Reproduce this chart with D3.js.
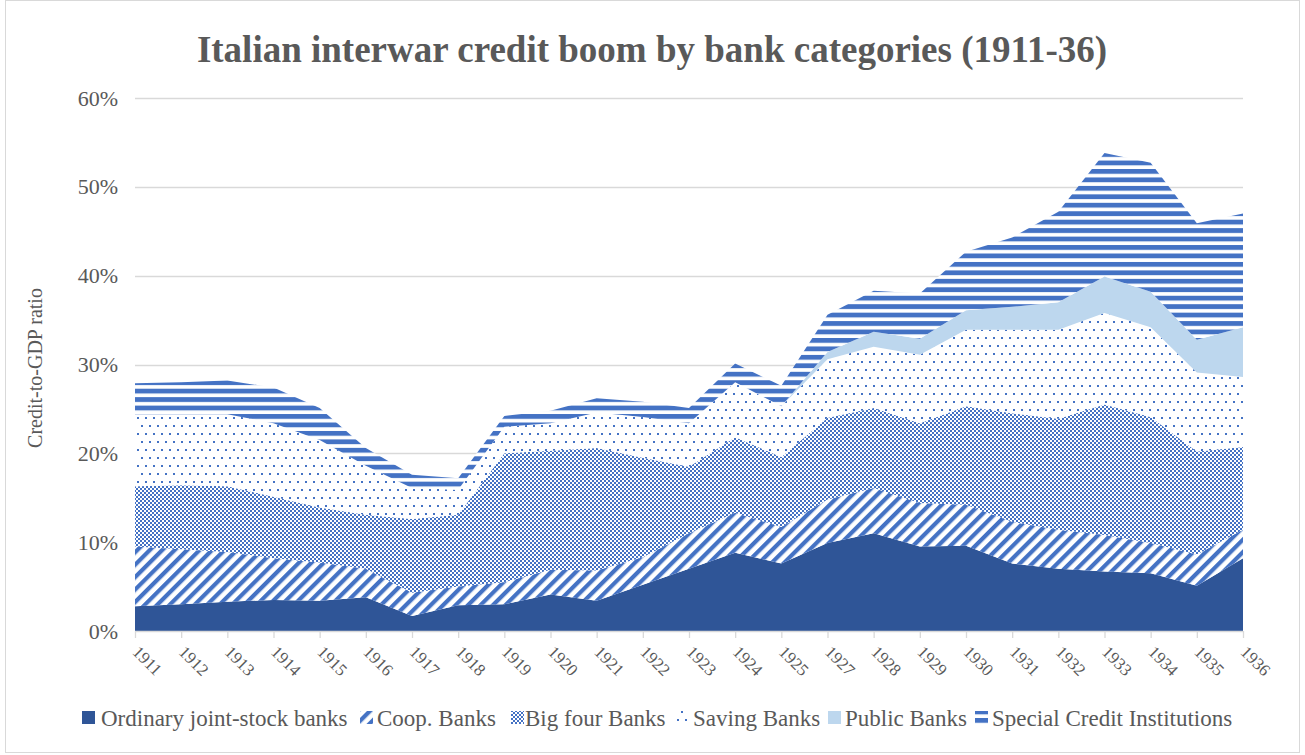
<!DOCTYPE html>
<html>
<head>
<meta charset="utf-8">
<script src="https://cdn.jsdelivr.net/npm/d3@7"></script>
<style>
  html, body { margin: 0; padding: 0; background: #ffffff; }
  svg { display: block; }
  text { font-family: "Liberation Serif", "Times New Roman", serif; }
</style>
</head>
<body>
<svg id="chart" width="1305" height="755"></svg>
<script>
// ---------------- DATA ----------------
const years = ["1911","1912","1913","1914","1915","1916","1917","1918","1919","1920",
               "1921","1922","1923","1924","1925","1927","1928","1929","1930","1931",
               "1932","1933","1934","1935","1936"];

const seriesNames = ["Ordinary joint-stock banks", "Coop. Banks", "Big four Banks",
                     "Saving Banks", "Public Banks", "Special Credit Institutions"];

// values in percent of GDP (each category's own share, stacked in the chart)
const ordinaryBanks = [2.8,3.0,3.3,3.5,3.4,3.8,1.7,2.9,3.0,4.1,3.4,5.2,7.0,8.8,7.6,9.9,11.0,9.5,9.6,7.6,7.0,6.7,6.5,5.1,8.2];
const coopBanks     = [6.7,6.2,5.6,4.7,4.3,3.2,2.6,2.1,2.5,2.8,3.4,3.1,4.0,4.5,4.1,4.9,5.1,4.9,4.6,4.7,4.4,4.1,3.4,3.5,3.2];
const bigFourBanks  = [6.8,7.2,7.4,6.9,6.2,6.1,8.3,8.1,14.5,13.4,13.8,11.2,7.5,8.5,7.9,9.2,9.0,9.0,11.1,12.2,12.5,14.7,14.2,11.6,9.3];
const savingBanks   = [8.1,8.0,8.1,8.3,7.6,5.5,3.5,2.8,3.0,3.1,4.0,4.6,4.9,6.2,5.7,6.6,6.9,7.7,8.6,9.4,10.0,10.3,10.1,8.9,7.9];
const publicBanks   = [0,0,0,0,0,0,0,0,0,0,0,0,0,0,0,0.8,1.7,1.8,2.2,2.6,3.1,4.1,4.0,3.7,5.6];
const specialCredit = [3.5,3.6,3.8,4.0,3.6,2.0,1.5,1.3,1.2,1.4,1.6,1.7,1.7,2.1,2.3,4.2,4.6,5.1,6.6,7.8,10.2,13.9,14.5,13.1,12.8];

const yTicks = [0, 0.1, 0.2, 0.3, 0.4, 0.5, 0.6];

const titleText = "Italian interwar credit boom by bank categories (1911-36)";
const yAxisTitle = "Credit-to-GDP ratio";

// ---------------- BUILD TABLE ----------------
const seriesArrays = [ordinaryBanks, coopBanks, bigFourBanks, savingBanks, publicBanks, specialCredit];
const table = years.map((yr, i) => {
  const row = { year: yr };
  seriesNames.forEach((n, k) => { row[n] = seriesArrays[k][i] / 100; });
  return row;
});

// ---------------- LAYOUT ----------------
const svg = d3.select("#chart");
const plotLeft = 135, plotRight = 1243, plotTop = 98, plotBottom = 631;
const gray = "#595959", gridColor = "#D9D9D9";

// chart border
svg.append("rect").attr("x", 5.5).attr("y", 0.5).attr("width", 1294).attr("height", 752)
   .attr("fill", "#fff").attr("stroke", gridColor).attr("stroke-width", 1);

// ---------------- PATTERNS ----------------
const defs = svg.append("defs");
const blue = "#4472C4";

// Coop: wide upward diagonal
const pCoop = defs.append("pattern").attr("id", "pCoop").attr("patternUnits", "userSpaceOnUse")
  .attr("width", 8.8).attr("height", 8.8).attr("patternTransform", "rotate(45)");
pCoop.append("rect").attr("width", 8.8).attr("height", 8.8).attr("fill", "#fff");
pCoop.append("rect").attr("x", 0).attr("y", 0).attr("width", 4.2).attr("height", 8.8).attr("fill", blue);

// Big four: small checkerboard
const pBig = defs.append("pattern").attr("id", "pBig").attr("patternUnits", "userSpaceOnUse")
  .attr("width", 4).attr("height", 4);
pBig.append("rect").attr("width", 4).attr("height", 4).attr("fill", "#fff");
pBig.append("rect").attr("x", 0).attr("y", 0).attr("width", 2).attr("height", 2).attr("fill", blue);
pBig.append("rect").attr("x", 2).attr("y", 2).attr("width", 2).attr("height", 2).attr("fill", blue);

// Saving: sparse staggered dots
const pSav = defs.append("pattern").attr("id", "pSav").attr("patternUnits", "userSpaceOnUse")
  .attr("width", 8).attr("height", 16);
pSav.append("rect").attr("width", 8).attr("height", 16).attr("fill", "#fff");
pSav.append("rect").attr("x", 1).attr("y", 1).attr("width", 2).attr("height", 2).attr("fill", blue);
pSav.append("rect").attr("x", 5).attr("y", 9).attr("width", 2).attr("height", 2).attr("fill", blue);

// Special: horizontal stripes
const pSpec = defs.append("pattern").attr("id", "pSpec").attr("patternUnits", "userSpaceOnUse")
  .attr("width", 10).attr("height", 8.45);
pSpec.append("rect").attr("width", 10).attr("height", 8.45).attr("fill", "#fff");
pSpec.append("rect").attr("x", 0).attr("y", 0).attr("width", 10).attr("height", 4.8).attr("fill", blue);

const fills = ["#2F5597", "url(#pCoop)", "url(#pBig)", "url(#pSav)", "#BDD7EE", "url(#pSpec)"];

// ---------------- SCALES ----------------
const x = d3.scalePoint().domain(years).range([plotLeft, plotRight]);
const y = d3.scaleLinear().domain([0, 0.6]).range([plotBottom, plotTop]);

// gridlines
svg.append("g").selectAll("line").data(yTicks.filter(d => d > 0)).join("line")
  .attr("x1", plotLeft).attr("x2", plotRight)
  .attr("y1", d => Math.round(y(d)) + 0.5).attr("y2", d => Math.round(y(d)) + 0.5)
  .attr("stroke", gridColor).attr("stroke-width", 1.3);

// ---------------- AREAS ----------------
const stack = d3.stack().keys(seriesNames);
const stacked = stack(table);
const area = d3.area()
  .x(d => x(d.data.year))
  .y0(d => y(d[0]))
  .y1(d => y(d[1]));

svg.append("g").selectAll("path").data(stacked).join("path")
  .attr("d", area)
  .attr("fill", (d, i) => fills[i])
  .attr("stroke", "none");

// ---------------- AXES ----------------
const yAxis = d3.axisLeft(y).tickValues(yTicks).tickFormat(d3.format(".0%")).tickSize(0).tickPadding(17);
const gy = svg.append("g").attr("transform", `translate(${plotLeft},0)`).call(yAxis);
gy.select(".domain").remove();
gy.selectAll("text").attr("fill", gray).attr("font-size", 22)
  .style("font-family", "'Liberation Serif', serif");

const xAxis = d3.axisBottom(x).tickSize(7).tickFormat(d => d);
const gx = svg.append("g").attr("transform", `translate(0,${plotBottom})`).call(xAxis);
gx.select(".domain").attr("stroke", gridColor).attr("stroke-width", 1.5)
  .attr("d", `M${plotLeft},0.5H${plotRight}`);
gx.selectAll(".tick line").attr("stroke", gridColor).attr("stroke-width", 1.3);
gx.selectAll(".tick text")
  .attr("fill", gray).attr("font-size", 17)
  .style("font-family", "'Liberation Serif', serif")
  .attr("text-anchor", "start")
  .attr("dy", null)
  .attr("y", 0)
  .attr("transform", "translate(-4,22) rotate(45)");

// y axis title
svg.append("text")
  .attr("transform", `translate(42,${368}) rotate(-90)`)
  .attr("text-anchor", "middle")
  .attr("fill", gray).attr("font-size", 20)
  .text(yAxisTitle);

// title
svg.append("text")
  .attr("x", 652).attr("y", 62)
  .attr("text-anchor", "middle")
  .attr("fill", gray).attr("font-size", 37).attr("font-weight", "bold")
  .text(titleText);

// ---------------- LEGEND ----------------
const legendIconX = [82, 360, 511, 676, 828, 975];
const legendY = 718;
const lg = svg.append("g");
seriesNames.forEach((name, i) => {
  const g = lg.append("g").attr("transform", `translate(${legendIconX[i]},${legendY})`);
  g.append("rect").attr("x", 0).attr("y", -7).attr("width", 13).attr("height", 13).attr("fill", fills[i]);
  g.append("text").attr("x", i === 0 ? 19 : (i === 2 ? 14 : 17)).attr("y", 0).attr("dy", "0.35em")
    .attr("fill", gray).attr("font-size", 23).text(name);
});
</script>
</body>
</html>
